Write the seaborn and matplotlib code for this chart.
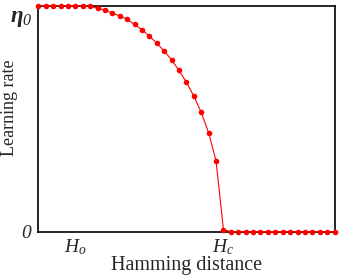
import numpy as np
import pandas as pd
import matplotlib
matplotlib.use("Agg")
import matplotlib.pyplot as plt
import matplotlib.transforms as mtransforms
import seaborn as sns

# Data
hamming_index = list(range(41))
learning_rate = [1.0, 1.0, 1.0, 1.0, 1.0, 1.0, 1.0, 0.996, 0.988, 0.980,
                 0.966, 0.954, 0.939, 0.916, 0.893, 0.865, 0.833, 0.799, 0.759, 0.713,
                 0.661, 0.599, 0.528, 0.437, 0.313, 0.009, 0.0, 0.0, 0.0, 0.0,
                 0.0, 0.0, 0.0, 0.0, 0.0, 0.0, 0.0, 0.0, 0.0, 0.0, 0.0]
xtick_pos = [5, 25]
xtick_labels = [r"$H_{o}$", r"$H_{c}$"]
ytick_pos = [0, 1]
ytick_labels = [r"$0$", r"$\boldsymbol{\eta}_{0}$"]

sns.set_style("white")
plt.rcParams["font.family"] = ["Liberation Serif", "DejaVu Serif"]
plt.rcParams["mathtext.fontset"] = "custom"
# digits in math are drawn with the 'rm' font: make it italic like the reference
plt.rcParams["mathtext.rm"] = "Liberation Serif:italic"
plt.rcParams["mathtext.it"] = "Liberation Serif:italic"
plt.rcParams["mathtext.bf"] = "Liberation Serif:bold"
plt.rcParams["mathtext.bfit"] = "Liberation Serif:italic:bold"
plt.rcParams["mathtext.default"] = "it"

df = pd.DataFrame({"x": hamming_index, "y": learning_rate})

fig = plt.figure(figsize=(3.4, 2.75), dpi=100)
ax = fig.add_axes([0.1126, 0.1575, 0.8714, 0.8225])

sns.lineplot(data=df, x="x", y="y", ax=ax, color="#ff0000", linewidth=0.8,
             marker="o", markersize=4.0, markeredgewidth=0, clip_on=False, zorder=5)

ax.set_xlim(0, 40)
ax.set_ylim(0, 1)
ax.set_xticks(xtick_pos)
ax.set_xticklabels(xtick_labels, fontsize=14)
ax.set_yticks(ytick_pos)
ax.set_yticklabels(ytick_labels, fontsize=14)
ax.tick_params(axis="x", direction="in", length=4, width=1, color="black", pad=4)
ax.tick_params(axis="y", direction="in", length=0, pad=4)

ax.set_xlabel("Hamming distance", fontsize=14.5, labelpad=-1)
ax.set_ylabel("Learning rate", fontsize=13)
ax.yaxis.set_label_coords(-0.069, 0.547)

for s in ax.spines.values():
    s.set_color("black")
    s.set_linewidth(1.2)
    s.set_visible(True)

# eta label: slightly larger and shifted down as in reference
lbls = ax.get_yticklabels()
lbls[1].set_fontsize(16.5)
off = mtransforms.ScaledTranslation(0, -7 / 72, fig.dpi_scale_trans)
lbls[1].set_transform(lbls[1].get_transform() + off)

fig.savefig("out.png", dpi=100)
